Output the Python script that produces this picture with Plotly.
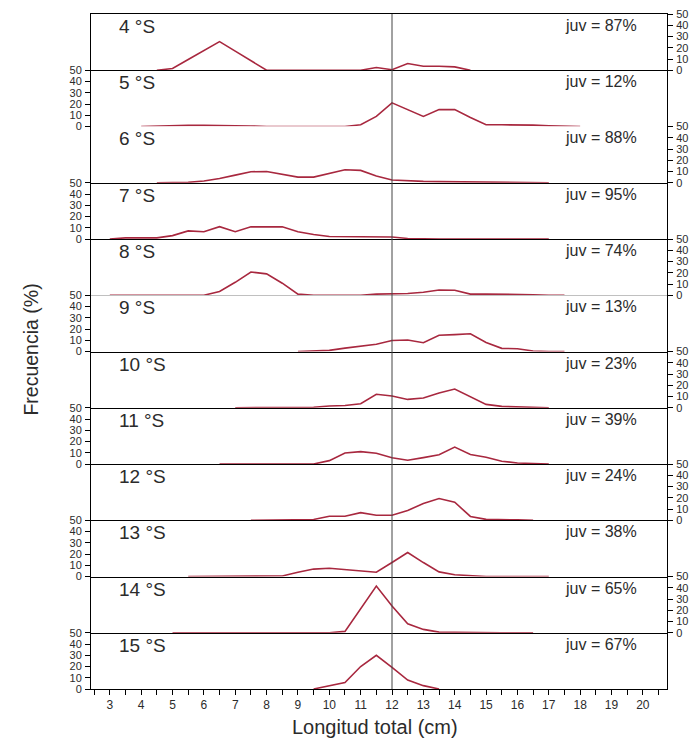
import plotly.graph_objects as go
from plotly.subplots import make_subplots

N = None
tallas = [3.0, 3.5, 4.0, 4.5, 5.0, 5.5, 6.0, 6.5, 7.0, 7.5, 8.0, 8.5, 9.0, 9.5, 10.0, 10.5,
          11.0, 11.5, 12.0, 12.5, 13.0, 13.5, 14.0, 14.5, 15.0, 15.5, 16.0, 16.5, 17.0, 17.5,
          18.0, 18.5, 19.0, 19.5, 20.0]

latitudes = ["4 °S", "5 °S", "6 °S", "7 °S", "8 °S", "9 °S",
             "10 °S", "11 °S", "12 °S", "13 °S", "14 °S", "15 °S"]
juveniles = [87, 12, 88, 95, 74, 13, 23, 39, 24, 38, 65, 67]

#           3.0 3.5 4.0 4.5  5.0  5.5  6.0  6.5  7.0  7.5  8.0  8.5  9.0  9.5 10.0 10.5 11.0 11.5 12.0 12.5 13.0 13.5 14.0 14.5 15.0 15.5 16.0 16.5 17.0 17.5 18.0 18.5 19.0 19.5 20.0
s04 = [N, N, N, 0, 1.5, 9.5, 17.5, 25.5, 17, 8.5, 0, 0, 0, 0, 0, 0, 0, 2.5, 0.5, 6, 3.5, 3.5, 3, 0,
       N, N, N, N, N, N, N, N, N, N, N]
s05 = [N, N, 0, 0.5, 0.5, 1, 1, 1, 1, 0.5, 0, 0, 0, 0, 0, 0, 1.5, 9, 21, 15, 9, 15, 15, 8,
       1.5, 1.5, 1.5, 1.2, 0.6, 0.3, 0, N, N, N, N]
s06 = [N, N, N, 0, 0, 0.3, 1.5, 3.8, 6.8, 9.8, 10, 7.4, 5, 5, 8, 11.5, 11, 6, 2.4, 1.5, 1.2, 1, 0.8, 0.5,
       0.3, 0.2, 0, 0, 0, N, N, N, N, N, N]
s07 = [0, 1, 1, 1, 3, 7.2, 6.5, 11, 6.5, 10.8, 10.8, 10.8, 6.5, 4, 2.2, 2, 2, 2, 1.8, 0.5, 0, 0, 0, 0,
       0, 0, 0, 0, 0, N, N, N, N, N, N]
s08 = [0, 0, 0, 0, 0, 0, 0, 3.3, 11.5, 20.7, 19, 10.7, 1, 0, 0, 0, 0, 1, 1.5, 1.5, 2.7, 4.7, 4.4, 1,
       1, 1, 0.8, 0.5, 0, 0, N, N, N, N, N]
s09 = [N, N, N, N, N, N, N, N, N, N, N, N, 0, 0.5, 1, 3, 4.5, 6.5, 9.8, 10.2, 7.8, 14.5, 15, 15.8,
       8, 2.8, 2.5, 0.5, 0, 0, N, N, N, N, N]
s10 = [N, N, N, N, N, N, N, N, 0, 0, 0, 0, 0.3, 0.5, 1.5, 2, 3.6, 12, 10.5, 7.4, 8.6, 13.2, 16.6, 9.7,
       3, 1.2, 0.6, 0.3, 0, N, N, N, N, N, N]
s11 = [N, N, N, N, N, N, N, 0, 0, 0, 0, 0, 0, 0, 3, 9.8, 11, 9.5, 5.6, 3.4, 5.7, 8.2, 15, 8.4,
       6, 2.5, 0.9, 0.3, 0, N, N, N, N, N, N]
s12 = [N, N, N, N, N, N, N, N, N, 0, 0, 0, 0, 0.6, 3.5, 3.5, 6.8, 4.5, 4.5, 8.7, 14.8, 19.3, 16, 3.4,
       0.8, 0.3, 0.3, 0, N, N, N, N, N, N, N]
s13 = [N, N, N, N, N, 0, 0, 0, 0, 0, 0, 0.5, 3.7, 6.6, 7.4, 6, 5, 3.8, 12.4, 21.3, 12.4, 4.1, 1.5, 0.5,
       0, 0, 0, 0, 0, N, N, N, N, N, N]
s14 = [N, N, N, N, 0, 0, 0, 0, 0, 0, 0, 0, 0, 0, 0, 1.2, 21, 41.5, 23.7, 8, 3, 0.6, 0.3, 0,
       0, 0, 0, 0, N, N, N, N, N, N, N]
s15 = [N, N, N, N, N, N, N, N, N, N, N, N, N, 0, 2.8, 5.8, 20, 30, 19.2, 8, 3, 0, N, N,
       N, N, N, N, N, N, N, N, N, N, N]

series = [s04, s05, s06, s07, s08, s09, s10, s11, s12, s13, s14, s15]
yticks = [0, 10, 20, 30, 40, 50]
xticks = [3, 4, 5, 6, 7, 8, 9, 10, 11, 12, 13, 14, 15, 16, 17, 18, 19, 20]

LINE = "#a8283f"
TXT = "#2b2b2b"
FONT = "Liberation Sans, Arial, sans-serif"
n = len(series)

fig = make_subplots(rows=n, cols=1, shared_xaxes=True, vertical_spacing=0)

for i, s in enumerate(series):
    r = i + 1
    fig.add_trace(go.Scatter(x=tallas, y=s, mode="lines",
                             line=dict(color=LINE, width=1.6),
                             connectgaps=False, showlegend=False,
                             hoverinfo="skip"), row=r, col=1)
    right = (i % 2 == 0)
    fig.update_yaxes(range=[0, 50], tickvals=yticks, ticks="outside", ticklen=5,
                     tickcolor="black", showline=True, linecolor="black", linewidth=1,
                     mirror=True, showgrid=False, zeroline=False, automargin=False,
                     side="right" if right else "left", ticklabelstandoff=1,
                     tickfont=dict(size=11, color=TXT, family=FONT),
                     row=r, col=1)
    fig.update_xaxes(range=[2.4, 20.77], showline=True, linecolor="black", linewidth=1,
                     mirror=(r == 1), showgrid=False, zeroline=False, automargin=False,
                     showticklabels=(r == n), ticks="outside" if r == n else "",
                     tickvals=xticks, ticklen=5, tickcolor="black",
                     tickfont=dict(size=12, color=TXT, family=FONT),
                     row=r, col=1)
    yref = "y domain" if r == 1 else f"y{r} domain"
    xref = "x domain" if r == 1 else f"x{r} domain"
    fig.add_annotation(text=latitudes[i], xref=xref, yref=yref, x=0.045, y=1,
                       xanchor="left", yanchor="top", yshift=0, showarrow=False,
                       font=dict(size=19, color=TXT, family=FONT))
    fig.add_annotation(text=f"juv = {juveniles[i]}%", xref=xref, yref=yref, x=0.951, y=1,
                       xanchor="right", yanchor="top", yshift=-1, showarrow=False,
                       font=dict(size=16, color=TXT, family=FONT))

fig.update_xaxes(minor=dict(dtick=0.5, ticks="outside", ticklen=5, tickcolor="black"),
                 row=n, col=1)

fig.add_shape(type="line", xref="x", yref="paper", x0=12, x1=12, y0=0, y1=1,
              line=dict(color="#444444", width=1))

fig.add_annotation(text="Frecuencia (%)", xref="paper", yref="paper", x=-0.104, y=0.503,
                   textangle=-90, showarrow=False, xanchor="center", yanchor="middle",
                   font=dict(size=19.5, color=TXT, family=FONT))
fig.add_annotation(text="Longitud total (cm)", xref="paper", yref="paper", x=0.493, y=-0.056,
                   showarrow=False, xanchor="center", yanchor="middle",
                   font=dict(size=20, color=TXT, family=FONT))

fig.update_layout(width=691, height=738,
                  margin=dict(l=91, r=24, t=14, b=49, autoexpand=False),
                  paper_bgcolor="white", plot_bgcolor="white",
                  font=dict(family=FONT))

fig.write_html("out.html",
               config={"displayModeBar": False, "staticPlot": True},
               post_script="document.body.style.margin='0';"
                           "document.body.style.overflow='hidden';")
